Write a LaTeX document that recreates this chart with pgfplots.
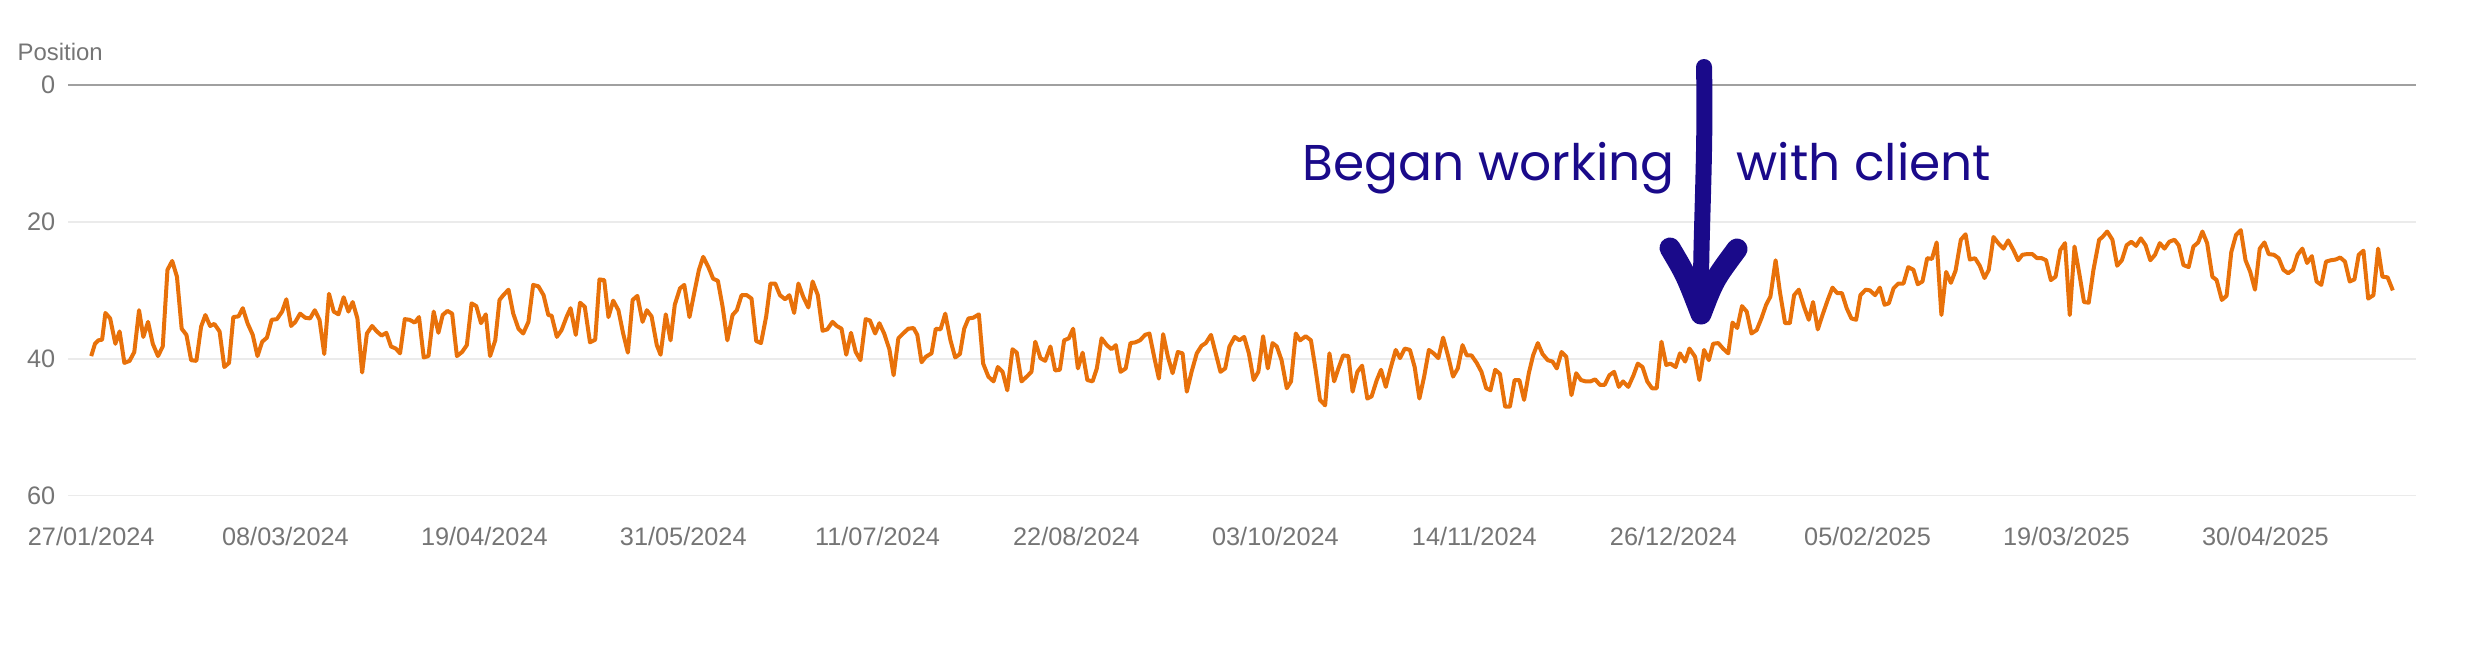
\documentclass[border=0pt]{standalone}
\usepackage{pgfplots}
\pgfplotsset{compat=1.18}
\usepackage{fontspec}
\setmainfont{Liberation Sans}
\newfontfamily\popfont{Poppins}
\definecolor{gscorange}{HTML}{E8710A}
\definecolor{ticktext}{HTML}{757575}
\definecolor{gridc}{HTML}{EBEBEB}
\definecolor{zeroline}{HTML}{A0A0A0}
\definecolor{annot}{HTML}{1A0A8A}
\begin{document}
\begin{tikzpicture}
\useasboundingbox (0,0) rectangle (246.6mm,66mm);
\begin{axis}[
  at={(6.8mm,16.43mm)}, anchor=south west,
  scale only axis, width=234.8mm, height=41.07mm,
  xmin=-4.9, xmax=490.8, ymin=0, ymax=60, y dir=reverse,
  axis line style={draw=none},
  major tick length=0pt,
  tick style={draw=none},
  xtick={0,41,83,125,166,208,250,292,334,375,417,459},
  xticklabels={27/01/2024,08/03/2024,19/04/2024,31/05/2024,11/07/2024,22/08/2024,03/10/2024,14/11/2024,26/12/2024,05/02/2025,19/03/2025,30/04/2025},
  ytick={20,40,60},
  extra y ticks={0},
  extra y tick style={grid style={draw=zeroline, line width=0.25mm}},
  ymajorgrids,
  grid style={draw=gridc, line width=0.15mm},
  ticklabel style={font=\fontsize{7.2}{8}\selectfont, text=ticktext},
  yticklabel style={anchor=east, inner sep=0pt, xshift=-1.2mm},
  xticklabel style={anchor=north, inner sep=0pt, yshift=-3.1mm},
  /pgf/number format/assume math mode=true,
]
\addplot[gscorange, line width=0.4mm, line join=round, mark=none] coordinates {
(0.0,39.6)(0.8,37.8)(1.5,37.3)(2.3,37.2)(3.0,33.3)(4.0,34.1)(5.1,37.8)(6.0,36.0)(7.0,40.6)(8.1,40.3)(9.1,39.0)(10.1,32.9)(11.0,36.8)(12.0,34.6)(13.0,37.8)(14.1,39.6)(15.1,38.2)(16.1,27.0)(17.1,25.7)(18.1,28.0)(19.1,35.6)(20.1,36.5)(21.1,40.2)(22.2,40.3)(23.2,35.3)(24.1,33.6)(25.1,35.2)(26.0,34.9)(27.1,36.0)(28.1,41.2)(29.1,40.6)(30.0,33.9)(31.1,33.8)(32.0,32.6)(33.0,34.8)(34.1,36.5)(35.1,39.6)(36.1,37.5)(37.1,36.9)(38.1,34.3)(39.2,34.2)(40.3,33.1)(41.2,31.3)(42.2,35.2)(43.1,34.6)(44.1,33.4)(45.2,34.0)(46.2,34.1)(47.2,32.9)(48.2,34.3)(49.2,39.3)(50.2,30.5)(51.2,33.1)(52.2,33.5)(53.3,31.0)(54.3,33.1)(55.2,31.7)(56.2,34.1)(57.2,42.0)(58.2,36.3)(59.3,35.2)(60.3,36.0)(61.3,36.6)(62.3,36.2)(63.3,38.2)(64.3,38.5)(65.2,39.2)(66.2,34.2)(67.2,34.3)(68.3,34.7)(69.2,33.9)(70.2,39.8)(71.2,39.6)(72.3,33.1)(73.3,36.2)(74.2,33.6)(75.2,33.0)(76.2,33.4)(77.2,39.6)(78.3,39.0)(79.3,38.0)(80.3,31.9)(81.3,32.3)(82.3,34.8)(83.3,33.5)(84.2,39.6)(85.3,37.3)(86.2,31.4)
(87.0,30.7)(88.1,29.9)(89.1,33.4)(90.2,35.6)(91.2,36.3)(92.3,34.6)(93.3,29.2)(94.4,29.4)(95.5,30.7)(96.5,33.6)(97.2,33.7)(98.3,36.8)(99.3,35.8)(100.4,33.8)(101.2,32.6)(102.3,36.5)(103.2,31.8)(104.2,32.4)(105.3,37.6)(106.4,37.2)(107.3,28.4)(108.3,28.5)(109.2,33.9)(110.2,31.5)(111.3,32.9)(112.3,36.3)(113.3,39.1)(114.3,31.4)(115.3,30.8)(116.4,34.6)(117.3,32.9)(118.3,33.8)(119.4,38.0)(120.2,39.4)(121.3,33.5)(122.3,37.3)(123.2,32.1)(124.3,29.7)(125.2,29.2)(126.3,33.9)(127.3,30.4)(128.3,27.0)(129.2,25.1)(130.3,26.6)(131.3,28.3)(132.3,28.6)(133.3,32.4)(134.3,37.3)(135.4,33.6)(136.3,32.9)(137.3,30.7)(138.4,30.7)(139.4,31.2)(140.4,37.4)(141.4,37.7)(142.5,33.8)(143.4,29.0)(144.4,29.0)(145.4,30.7)(146.5,31.3)(147.4,30.7)(148.4,33.3)(149.3,29.0)(150.3,30.9)(151.4,32.5)(152.3,28.7)(153.4,30.7)(154.4,35.9)(155.4,35.7)(156.5,34.6)(157.4,35.2)(158.4,35.6)(159.4,39.4)(160.4,36.2)(161.4,39.0)(162.4,40.2)(163.5,34.2)(164.4,34.4)(165.5,36.3)(166.4,34.8)(167.4,36.3)(168.5,38.6)(169.4,42.4)(170.4,37.0)
(171.4,36.3)(172.5,35.6)(173.6,35.5)(174.4,36.5)(175.3,40.5)(176.2,39.7)(177.4,39.2)(178.3,35.6)(179.3,35.7)(180.3,33.4)(181.4,37.3)(182.4,39.8)(183.4,39.3)(184.3,35.6)(185.2,34.1)(186.2,34.0)(187.4,33.5)(188.3,40.7)(189.4,42.6)(190.5,43.3)(191.4,41.2)(192.4,41.9)(193.4,44.6)(194.5,38.6)(195.4,39.1)(196.4,43.3)(197.5,42.6)(198.5,41.9)(199.3,37.5)(200.4,39.9)(201.4,40.3)(202.5,38.2)(203.5,41.7)(204.5,41.6)(205.4,37.3)(206.4,37.0)(207.3,35.6)(208.3,41.4)(209.3,39.1)(210.3,43.1)(211.4,43.3)(212.3,41.4)(213.3,37.0)(214.4,38.0)(215.4,38.6)(216.3,38.0)(217.3,41.9)(218.4,41.4)(219.4,37.7)(220.4,37.6)(221.4,37.3)(222.5,36.5)(223.4,36.3)(224.4,39.7)(225.4,42.9)(226.3,36.4)(227.3,39.7)(228.3,42.1)(229.4,39.0)(230.4,39.2)(231.3,44.8)(232.3,41.9)(233.4,39.2)(234.4,38.1)(235.3,37.7)(236.4,36.5)(237.4,39.2)(238.4,41.9)(239.4,41.4)(240.3,38.2)(241.4,36.8)(242.4,37.3)(243.4,36.8)(244.4,39.2)(245.4,43.1)(246.4,41.9)(247.4,36.7)(248.4,41.4)(249.4,37.7)(250.3,38.2)(251.3,40.2)(252.4,44.3)(253.3,43.3)(254.3,36.3)(255.2,37.3)
(256.4,36.7)(257.5,37.3)(258.4,41.2)(259.4,46.0)(260.5,46.8)(261.4,39.2)(262.4,43.3)(263.3,41.4)(264.3,39.5)(265.4,39.6)(266.3,44.8)(267.3,41.9)(268.3,41.0)(269.4,45.8)(270.3,45.5)(271.4,43.1)(272.3,41.6)(273.3,44.1)(274.3,41.4)(275.4,38.7)(276.3,39.9)(277.3,38.5)(278.4,38.7)(279.4,41.2)(280.4,45.8)(281.4,42.6)(282.4,38.7)(283.4,39.2)(284.4,39.9)(285.4,36.9)(286.5,39.7)(287.5,42.6)(288.5,41.4)(289.5,38.0)(290.4,39.5)(291.4,39.5)(292.5,40.6)(293.5,41.9)(294.5,44.3)(295.4,44.6)(296.4,41.6)(297.4,42.2)(298.5,47.0)(299.5,47.0)(300.5,43.1)(301.5,43.1)(302.5,46.0)(303.5,42.1)(304.4,39.5)(305.4,37.7)(306.4,39.3)(307.5,40.2)(308.5,40.4)(309.4,41.4)(310.4,39.0)(311.4,39.7)(312.5,45.3)(313.5,42.1)(314.5,43.1)(315.5,43.3)(316.5,43.3)(317.5,43.0)(318.5,43.8)(319.5,43.8)(320.5,42.4)(321.5,41.9)(322.5,44.1)(323.4,43.3)(324.5,44.1)(325.6,42.4)(326.5,40.7)(327.5,41.2)(328.5,43.3)(329.5,44.3)(330.5,44.3)(331.5,37.5)(332.5,40.9)(333.4,40.7)(334.5,41.2)(335.4,39.2)(336.5,40.4)(337.4,38.5)(338.6,39.7)(339.5,43.1)
(340.5,38.7)(341.5,40.2)(342.4,37.8)(343.5,37.7)(344.5,38.5)(345.6,39.2)(346.5,34.7)(347.5,35.5)(348.5,32.3)(349.5,33.1)(350.5,36.3)(351.6,35.8)(352.6,34.1)(353.6,32.1)(354.5,30.9)(355.6,25.6)(356.5,30.2)(357.6,34.8)(358.6,34.8)(359.5,30.7)(360.5,29.9)(361.6,32.4)(362.6,34.3)(363.5,31.7)(364.5,35.7)(365.5,33.6)(366.6,31.4)(367.6,29.6)(368.6,30.4)(369.6,30.4)(370.6,32.6)(371.6,34.1)(372.6,34.3)(373.5,30.7)(374.6,29.9)(375.5,30.0)(376.6,30.7)(377.6,29.6)(378.6,32.1)(379.5,31.9)(380.5,29.7)(381.5,29.0)(382.6,29.0)(383.6,26.6)(384.7,27.0)(385.6,29.1)(386.6,28.7)(387.6,25.3)(388.6,25.4)(389.6,23.0)(390.6,33.6)(391.6,27.3)(392.6,28.9)(393.6,27.1)(394.7,22.6)(395.7,21.8)(396.6,25.5)(397.7,25.3)(398.7,26.4)(399.7,28.2)(400.6,27.0)(401.6,22.2)(402.6,23.1)(403.7,23.9)(404.7,22.7)(405.8,24.1)(406.8,25.6)(407.7,24.8)(408.7,24.7)(409.8,24.7)(410.8,25.3)(411.8,25.3)(412.7,25.6)(413.7,28.5)(414.7,28.0)(415.7,24.1)(416.7,23.1)(417.7,33.6)(418.7,23.6)(419.7,27.5)(420.7,31.7)(421.7,31.8)(422.7,27.0)(423.9,22.6)
(424.6,22.2)(425.6,21.4)(426.7,22.6)(427.7,26.4)(428.7,25.6)(429.7,23.4)(430.7,22.9)(431.7,23.5)(432.7,22.4)(433.7,23.4)(434.7,25.6)(435.7,24.8)(436.7,23.1)(437.7,23.9)(438.7,22.9)(439.8,22.6)(440.7,23.4)(441.7,26.3)(442.8,26.6)(443.8,23.6)(444.8,23.0)(445.7,21.4)(446.7,23.1)(447.8,28.0)(448.7,28.5)(449.8,31.4)(450.8,30.8)(451.8,24.4)(452.8,21.9)(453.8,21.2)(454.8,25.6)(455.8,27.3)(456.8,29.9)(457.8,23.9)(458.8,23.0)(459.7,24.7)(460.8,24.8)(461.8,25.3)(462.8,27.0)(463.8,27.5)(464.8,27.0)(465.8,24.8)(466.8,23.9)(467.8,26.0)(468.8,25.0)(469.8,28.7)(470.8,29.2)(471.8,25.8)(472.8,25.6)(473.8,25.5)(474.8,25.2)(475.8,25.8)(476.8,28.7)(477.8,28.4)(478.7,24.8)(479.7,24.2)(480.7,31.2)(481.8,30.7)(482.8,23.9)(483.7,28.0)(484.8,28.1)(485.9,30.0)
};
\end{axis}
\node[anchor=west, inner sep=0pt, text=ticktext, font=\fontsize{6.8}{8}\selectfont] at (1.7mm,60.8mm) {Position};
\node[anchor=base west, inner sep=0pt, text=annot, font=\popfont\fontsize{14.3}{16}\selectfont] at (130.2mm,48.0mm) {Began working};
\node[anchor=base west, inner sep=0pt, text=annot, font=\popfont\fontsize{14.3}{16}\selectfont] at (173.6mm,48.0mm) {with client};
\draw[annot, line width=1.6mm, line cap=round] (170.4mm,59.3mm) .. controls (170.6mm,50mm) and (170.0mm,42mm) .. (170.1mm,34.6mm);
\draw[annot, line width=2.1mm, line cap=round, line join=round] (167.0mm,41.2mm) .. controls (168.6mm,38.5mm) .. (170.1mm,34.6mm) .. controls (171.4mm,38.0mm) .. (173.7mm,41.1mm);
\end{tikzpicture}
\end{document}
